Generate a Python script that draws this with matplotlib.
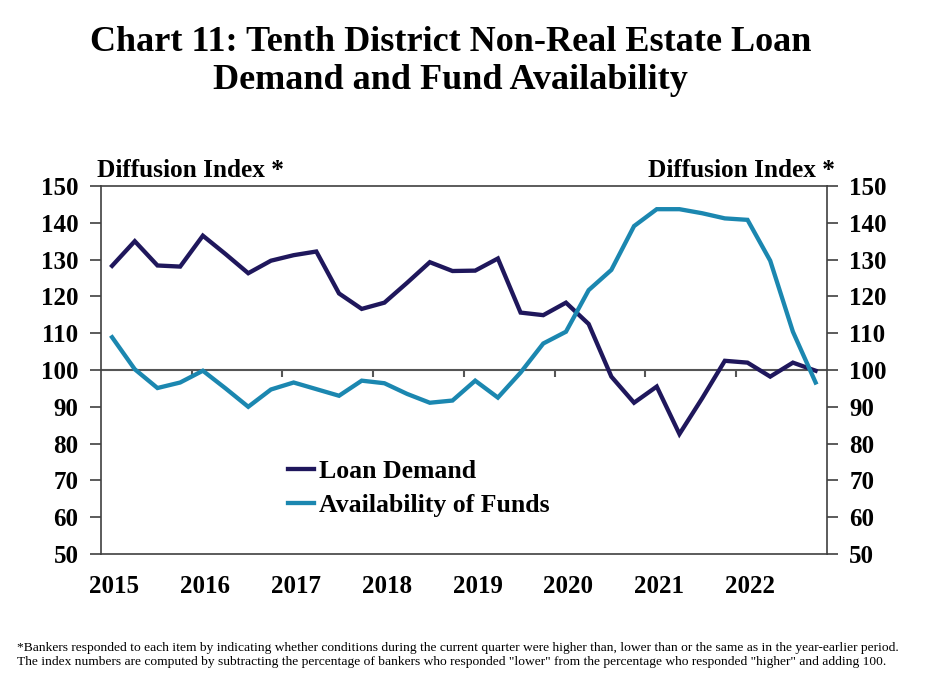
import matplotlib
matplotlib.use("Agg")
import matplotlib.pyplot as plt
import numpy as np

years = [2015, 2016, 2017, 2018, 2019, 2020, 2021, 2022]
year_labels = ["2015", "2016", "2017", "2018", "2019", "2020", "2021", "2022"]
y_ticks = [50, 60, 70, 80, 90, 100, 110, 120, 130, 140, 150]

loan_demand = [128.3, 135.0, 128.4, 128.1,
               136.5, 131.5, 126.3, 129.7,
               131.2, 132.2, 120.8, 116.6,
               118.3, 123.7, 129.3, 126.9,
               127.0, 130.3, 115.6, 114.9,
               118.3, 112.5, 98.2, 91.1,
               95.5, 82.6, 92.3, 102.5,
               102.0, 98.2, 102.0, 99.8]
availability = [108.9, 100.2, 95.1, 96.6,
                99.8, 95.0, 90.0, 94.7,
                96.6, 94.8, 93.0, 97.1,
                96.4, 93.5, 91.1, 91.7,
                97.1, 92.5, 99.3, 107.2,
                110.4, 121.7, 127.2, 139.1,
                143.7, 143.7, 142.6, 141.2,
                140.8, 129.7, 110.4, 96.6]

quarters = np.array([y + (q + 0.5) / 4 for y in years for q in range(4)])

serif = ["Liberation Serif", "DejaVu Serif"]
plt.rcParams["font.family"] = serif

fig = plt.figure(figsize=(9.25, 6.93), dpi=100)
ax = fig.add_axes([0.1089, 0.2006, 0.894 - 0.1089, 0.7316 - 0.2006])

navy = "#1F175C"
teal = "#1B87B0"
ax.plot(quarters, loan_demand, color=navy, lw=3.1, label="Loan Demand", solid_joinstyle="miter")
ax.plot(quarters, availability, color=teal, lw=3.1, label="Availability of Funds", solid_joinstyle="miter")

ax.set_xlim(2015, 2023)
ax.set_ylim(50, 150)

spine_c = "#404040"
for s in ax.spines.values():
    s.set_color(spine_c)
    s.set_linewidth(1.2)

ax.axhline(100, color="#555555", lw=1.5, zorder=1)
ax.vlines(years[1:], 98.0, 100, color="#555555", lw=1.5, zorder=1)

ax.set_yticks(y_ticks)
ax.set_yticklabels([str(v) for v in y_ticks])
ax.tick_params(axis="y", which="both", direction="out", length=8, width=1.2,
               color=spine_c, left=True, right=True, labelleft=True, labelright=True,
               labelsize=18, pad=8)
for lab in ax.get_yticklabels():
    lab.set_fontweight("bold")

ax.set_xticks([y + 0.15 for y in years])
ax.set_xticklabels(year_labels)
ax.tick_params(axis="x", length=0, labelsize=18, pad=15)
for lab in ax.get_xticklabels():
    lab.set_fontweight("bold")

ax.text(-0.005, 1.01, "Diffusion Index *", transform=ax.transAxes, ha="left", va="bottom",
        fontsize=18.2, fontweight="bold")
ax.text(1.011, 1.01, "Diffusion Index *", transform=ax.transAxes, ha="right", va="bottom",
        fontsize=18.2, fontweight="bold")

fig.text(0.487, 0.911, "Chart 11: Tenth District Non-Real Estate Loan\nDemand and Fund Availability",
         ha="center", va="center", fontsize=26, fontweight="bold", linespacing=1.22)

leg = fig.legend(loc="upper left", bbox_to_anchor=(288 / 925, 1 - 460 / 693), frameon=False,
                 prop={"family": serif, "weight": "bold", "size": 18.5},
                 handlelength=1.0, handletextpad=0.2, labelspacing=0.42, borderpad=0,
                 borderaxespad=0)

fig.text(0.018, 0.0545,
         '*Bankers responded to each item by indicating whether conditions during the current quarter were higher than, lower than or the same as in the year-earlier period.\n'
         'The index numbers are computed by subtracting the percentage of bankers who responded "lower" from the percentage who responded "higher" and adding 100.',
         ha="left", va="center", fontsize=9.7, linespacing=1.18)

fig.savefig("out.png", dpi=100)
